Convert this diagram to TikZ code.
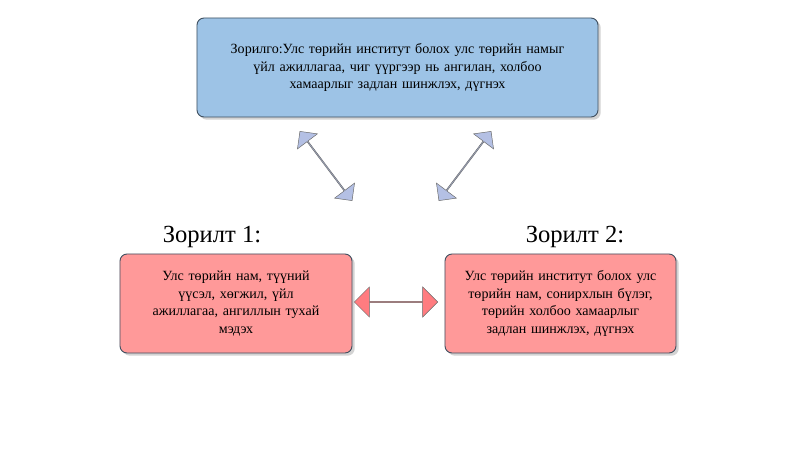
\documentclass[tikz,border=0pt]{standalone}
\usepackage{fontspec}
\setmainfont{Liberation Serif}
\usetikzlibrary{positioning,shapes.arrows,shadows}
\definecolor{goalblue}{HTML}{9DC3E6}
\definecolor{goalborder}{HTML}{3F4F5F}
\definecolor{taskred}{HTML}{FF9999}
\definecolor{arrowblue}{HTML}{B4C0E4}
\definecolor{arrowred}{HTML}{FF7C80}
\tikzset{
    goalbox/.style={
           rectangle,
           rounded corners=6pt,
           draw=goalborder, thick,
           minimum height=2.97cm,
           inner sep=2pt,
           align=center,
           font=\fontsize{12}{15}\selectfont,
           drop shadow={opacity=0.35},
           },
    linkarrow/.style={
           double arrow,
           draw=gray!80!black,
           double arrow head extend=4pt,
           minimum height=2.6cm,
           minimum width=0.75cm,
           inner sep=0pt,
           },
}
\begin{document}
\begin{tikzpicture}[x=0.03cm,y=-0.03cm]
    \useasboundingbox (0,0) rectangle (800,450);

    \node[goalbox,fill=goalblue,minimum width=12.03cm,text width=11.5cm]
        (G) at (397.5,67.5) {Зорилго:Улс төрийн институт болох улс төрийн намыг\\үйл ажиллагаа, чиг үүргээр нь ангилан, холбоо\\хамаарлыг задлан шинжлэх, дүгнэх};
    \node[goalbox,fill=taskred,minimum width=6.96cm,text width=6.3cm]
        (T1) at (236,303.5) {Улс төрийн нам, түүний\\үүсэл, хөгжил, үйл\\ажиллагаа, ангиллын тухай\\мэдэх};
    \node[goalbox,fill=taskred,minimum width=6.93cm,text width=6.5cm]
        (T2) at (560.5,303.5) {Улс төрийн институт болох улс\\төрийн нам, сонирхлын бүлэг,\\төрийн холбоо хамаарлыг\\задлан шинжлэх, дүгнэх};

    \node[font=\fontsize{21}{24}\selectfont] (L1) at (212,237) {Зорилт 1:};
    \node[font=\fontsize{21}{24}\selectfont] (L2) at (575,237) {Зорилт 2:};

    \node[linkarrow,fill=arrowblue,rotate=-53] (AL) at (326,166) {};
    \node[linkarrow,fill=arrowblue,rotate=53] (AR) at (465,166) {};
    \node[linkarrow,fill=arrowred,minimum height=2.5cm,minimum width=0.9cm] (AM) at (396,302) {};

\end{tikzpicture}
\end{document}
